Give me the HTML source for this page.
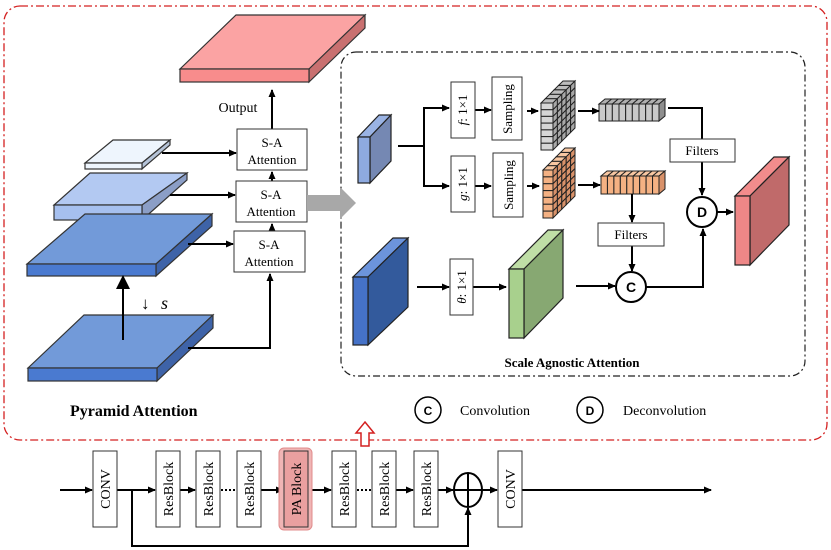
<!DOCTYPE html>
<html><head><meta charset="utf-8"><style>
html,body{margin:0;padding:0;background:#fff}
svg{display:block}
text{font-family:"Liberation Serif",serif;fill:#000}
</style></head><body>
<svg id="s" width="831" height="550" viewBox="0 0 831 550" xmlns="http://www.w3.org/2000/svg">
<defs>
<marker id="a" markerWidth="8" markerHeight="8" refX="7" refY="4" orient="auto" markerUnits="userSpaceOnUse"><path d="M0,0.5 L8,4 L0,7.5z" fill="#000"/></marker>
<marker id="b" markerWidth="14" markerHeight="14" refX="12" refY="7" orient="auto" markerUnits="userSpaceOnUse"><path d="M0,0 L14,7 L0,14z" fill="#000"/></marker>
</defs>
<rect x="4" y="6" width="823" height="434" rx="16" fill="none" stroke="#d42020" stroke-width="1.3" stroke-dasharray="8,3,2,3"/>
<rect x="341" y="52" width="464" height="324" rx="15" fill="none" stroke="#222" stroke-width="1.2" stroke-dasharray="7,3,2,3"/>
<g stroke="#333" stroke-width="1.2">
<!-- output slab -->
<polygon points="180,69 309,69 365,15 236,15" fill="#fba3a3"/>
<polygon points="309,69 365,15 365,28 309,82" fill="#c97070"/>
<rect x="180" y="69" width="129" height="13" fill="#f88c8c"/>
<!-- white slab -->
<polygon points="85,163 142,163 170,140 113,140" fill="#eef5fd"/>
<polygon points="142,163 170,140 170,145 142,169" fill="#b5c3d8"/>
<rect x="85" y="163" width="57" height="6" fill="#eef5fd"/>
<!-- light blue -->
<polygon points="54,205 142,205 187,173 90,173" fill="#b3c9f2"/>
<polygon points="142,205 187,173 187,180 142,220" fill="#8b9ec6"/>
<rect x="54" y="205" width="88" height="15" fill="#a6c0ef"/>
<!-- mid blue -->
<polygon points="27,264 156,264 212,214 85,214" fill="#729ad9"/>
<polygon points="156,264 212,214 212,226 156,276" fill="#3e63a8"/>
<rect x="27" y="264" width="129" height="12" fill="#4a7ad0"/>
<!-- bottom -->
<polygon points="28,368 157,368 213,315 84,315" fill="#729ad9"/>
<polygon points="157,368 213,315 213,328 157,381" fill="#3e63a8"/>
<rect x="28" y="368" width="129" height="13" fill="#4a7ad0"/>
</g>
<g stroke="#000" stroke-width="2" fill="none">
<line x1="272" y1="129" x2="272" y2="90" marker-end="url(#a)"/>
<line x1="162" y1="153" x2="236" y2="153" marker-end="url(#a)"/>
<line x1="170" y1="195" x2="235" y2="195" marker-end="url(#a)"/>
<line x1="188" y1="244" x2="233" y2="244" marker-end="url(#a)"/>
<polyline points="188,348 270,348 270,274" marker-end="url(#a)"/>
<line x1="123" y1="340" x2="123" y2="277" marker-end="url(#b)"/>
<line x1="272" y1="181" x2="272" y2="172" marker-end="url(#a)"/>
<line x1="272" y1="231" x2="272" y2="224" marker-end="url(#a)"/>
</g>
<g fill="#fff" stroke="#333" stroke-width="1">
<rect x="237" y="129" width="70" height="41"/>
<rect x="236" y="181" width="71" height="41"/>
<rect x="234" y="231" width="71" height="41"/>
</g>
<g font-size="13" text-anchor="middle">
<text x="272" y="147">S-A</text><text x="272" y="164">Attention</text>
<text x="271" y="199">S-A</text><text x="271" y="216">Attention</text>
<text x="269" y="249">S-A</text><text x="269" y="266">Attention</text>
<text x="238" y="112" font-size="14">Output</text>
</g>
<text x="141" y="309" font-size="17">↓</text><text x="161" y="309" font-size="18" font-style="italic">s</text>
<polygon points="307,195 340,195 340,187 356,203 340,219 340,211 307,211" fill="#a8a8a8"/>
<text x="70" y="416" font-size="16" font-weight="bold">Pyramid Attention</text>
<text x="572" y="367" font-size="13" font-weight="bold" text-anchor="middle">Scale Agnostic Attention</text>

<!-- SAA blocks -->
<g stroke="#222" stroke-width="1.2">
<polygon points="358,137 370,137 391,115 379,115" fill="#9ab3e4"/>
<polygon points="370,137 391,115 391,161 370,183" fill="#7588b3"/>
<rect x="358" y="137" width="12" height="46" fill="#8eaae0"/>
<polygon points="353,277 368,277 408,238 393,238" fill="#6c94dc"/>
<polygon points="368,277 408,238 408,307 368,345" fill="#335a9c"/>
<rect x="353" y="277" width="15" height="68" fill="#4572c8"/>
<polygon points="509,269 524,269 563,230 548,230" fill="#bfdea6"/>
<polygon points="524,269 563,230 563,298 524,338" fill="#87a872"/>
<rect x="509" y="269" width="15" height="69" fill="#a8d08d"/>
<polygon points="735,196 750,196 789,157 774,157" fill="#f28c8c"/>
<polygon points="750,196 789,157 789,225 750,265" fill="#c06a6a"/>
<rect x="735" y="196" width="15" height="69" fill="#ee8787"/>
</g>
<g id="grids" stroke="#222" stroke-width="1"></g>
<g stroke="#000" stroke-width="2" fill="none">
<polyline points="398,146 424,146"/>
<polyline points="449,108 424,108 424,186 449,186"/>
<line x1="424" y1="108" x2="449" y2="108" marker-end="url(#a)"/>
<line x1="424" y1="186" x2="449" y2="186" marker-end="url(#a)"/>
<line x1="475" y1="110" x2="491" y2="110" marker-end="url(#a)"/>
<line x1="475" y1="186" x2="491" y2="186" marker-end="url(#a)"/>
<line x1="527" y1="111" x2="538" y2="111" marker-end="url(#a)"/>
<line x1="527" y1="186" x2="539" y2="186" marker-end="url(#a)"/>
<line x1="578" y1="111" x2="599" y2="111" marker-end="url(#a)"/>
<line x1="578" y1="185" x2="600" y2="185" marker-end="url(#a)"/>
<polyline points="668,108 702,108 702,139"/>
<line x1="702" y1="162" x2="702" y2="195" marker-end="url(#a)"/>
<line x1="632" y1="194" x2="632" y2="222" marker-end="url(#a)"/>
<line x1="632" y1="246" x2="632" y2="271" marker-end="url(#a)"/>
<line x1="417" y1="287" x2="449" y2="287" marker-end="url(#a)"/>
<line x1="473" y1="287" x2="506" y2="287" marker-end="url(#a)"/>
<line x1="576" y1="286" x2="615" y2="286" marker-end="url(#a)"/>
<polyline points="646,287 703,287 703,229" marker-end="url(#a)"/>
<line x1="717" y1="212" x2="733" y2="212" marker-end="url(#a)"/>
</g>
<g fill="#fff" stroke="#333" stroke-width="1">
<rect x="451" y="82" width="24" height="56"/>
<rect x="451" y="156" width="24" height="56"/>
<rect x="492" y="77" width="30" height="63"/>
<rect x="493" y="153" width="30" height="64"/>
<rect x="670" y="139" width="65" height="23"/>
<rect x="598" y="223" width="66" height="23"/>
<rect x="450" y="259" width="23" height="56"/>
</g>
<g stroke="#000" stroke-width="2" fill="#fff">
<circle cx="702" cy="212" r="15"/><circle cx="631" cy="287" r="15"/>
<circle cx="428" cy="410" r="13" stroke-width="1.5"/><circle cx="590" cy="410" r="13" stroke-width="1.5"/>
</g>
<g font-family="Liberation Sans" font-weight="bold" font-size="14" text-anchor="middle">
<text x="702" y="217" style="font-family:'Liberation Sans',sans-serif">D</text>
<text x="631" y="292" style="font-family:'Liberation Sans',sans-serif">C</text>
<text x="428" y="415" font-size="12" style="font-family:'Liberation Sans',sans-serif">C</text>
<text x="590" y="415" font-size="12" style="font-family:'Liberation Sans',sans-serif">D</text>
</g>
<text x="460" y="415" font-size="14">Convolution</text>
<text x="623" y="415" font-size="14">Deconvolution</text>
<g font-size="13" text-anchor="middle">
<text x="702" y="155">Filters</text><text x="631" y="239">Filters</text>
<text transform="translate(467,110) rotate(-90)"><tspan font-style="italic">f</tspan>: 1×1</text>
<text transform="translate(467,184) rotate(-90)"><tspan font-style="italic">g</tspan>: 1×1</text>
<text transform="translate(466,287) rotate(-90)"><tspan font-style="italic">θ</tspan>: 1×1</text>
<text transform="translate(512,109) rotate(-90)">Sampling</text>
<text transform="translate(513,185) rotate(-90)">Sampling</text>
</g>

<!-- bottom chain -->
<g stroke="#000" stroke-width="2" fill="none">
<line x1="60" y1="490" x2="92" y2="490" marker-end="url(#a)"/>
<line x1="117" y1="490" x2="155" y2="490" marker-end="url(#a)"/>
<line x1="180" y1="490" x2="195" y2="490" marker-end="url(#a)"/>
<line x1="221" y1="490" x2="237" y2="490" stroke-dasharray="2,2"/>
<line x1="261" y1="490" x2="283" y2="490" marker-end="url(#a)"/>
<line x1="308" y1="490" x2="331" y2="490" marker-end="url(#a)"/>
<line x1="357" y1="490" x2="372" y2="490" stroke-dasharray="2,2"/>
<line x1="396" y1="490" x2="413" y2="490" marker-end="url(#a)"/>
<line x1="438" y1="490" x2="453" y2="490" marker-end="url(#a)"/>
<line x1="482" y1="490" x2="497" y2="490" marker-end="url(#a)"/>
<line x1="522" y1="490" x2="711" y2="490" marker-end="url(#a)"/>
<polyline points="132,490 132,546 468,546 468,508" marker-end="url(#a)"/>
<ellipse cx="468" cy="490" rx="14" ry="17" fill="#fff"/>
<line x1="454" y1="490" x2="482" y2="490"/><line x1="468" y1="473" x2="468" y2="507"/>
</g>
<rect x="279" y="448" width="33" height="82" rx="5" fill="#f0b5b5" stroke="#e08c8c"/>
<polygon points="365,422 374,433 369,433 369,446 361,446 361,433 356,433" fill="#fff" stroke="#d42020" stroke-width="1.5"/>
<g fill="#fff" stroke="#333" stroke-width="1">
<rect x="93" y="451" width="24" height="76"/>
<rect x="156" y="451" width="24" height="76"/>
<rect x="196" y="451" width="24" height="76"/>
<rect x="237" y="451" width="24" height="76"/>
<rect x="284" y="451" width="24" height="76" fill="#eaa0a0"/>
<rect x="332" y="451" width="24" height="76"/>
<rect x="372" y="451" width="24" height="76"/>
<rect x="414" y="451" width="24" height="76"/>
<rect x="498" y="451" width="24" height="76"/>
</g>
<g font-size="14" text-anchor="middle">
<text transform="translate(110,489) rotate(-90)">CONV</text>
<text transform="translate(173,489) rotate(-90)">ResBlock</text>
<text transform="translate(213,489) rotate(-90)">ResBlock</text>
<text transform="translate(254,489) rotate(-90)">ResBlock</text>
<text transform="translate(301,489) rotate(-90)">PA Block</text>
<text transform="translate(349,489) rotate(-90)">ResBlock</text>
<text transform="translate(389,489) rotate(-90)">ResBlock</text>
<text transform="translate(431,489) rotate(-90)">ResBlock</text>
<text transform="translate(515,489) rotate(-90)">CONV</text>
</g>
</svg>
<script>
(function(){
var g=document.getElementById('grids'),NS='http://www.w3.org/2000/svg';
function P(pts,f){var p=document.createElementNS(NS,'polygon');p.setAttribute('points',pts.map(function(a){return a.join(',')}).join(' '));p.setAttribute('fill',f);g.appendChild(p);}
function grid(x,y,w,h,dx,dy,n,m,cf,ct,cs){
 // front column cells
 for(var i=0;i<n;i++){var y0=y+h*i/n,y1=y+h*(i+1)/n;P([[x,y0],[x+w,y0],[x+w,y1],[x,y1]],cf);}
 for(var j=0;j<m;j++){var a=j/m,b=(j+1)/m;
  P([[x+dx*a,y-dy*a],[x+w+dx*a,y-dy*a],[x+w+dx*b,y-dy*b],[x+dx*b,y-dy*b]],ct);
  for(var i=0;i<n;i++){var y0=y+h*i/n,y1=y+h*(i+1)/n;
   P([[x+w+dx*a,y0-dy*a],[x+w+dx*b,y0-dy*b],[x+w+dx*b,y1-dy*b],[x+w+dx*a,y1-dy*a]],cs);}
 }
}
grid(541,103,12,47,22,22,7,5,'#d6d6d6','#bdbdbd','#a8a8a8');
grid(543,170,10,48,22,22,7,5,'#f4b183','#f8c7a2','#d9926a');
function bar(x,y,w,h,dx,dy,n,cf,ct,cs){
 for(var i=0;i<n;i++){var x0=x+w*i/n,x1=x+w*(i+1)/n;
  P([[x0,y],[x1,y],[x1,y+h],[x0,y+h]],cf);
  P([[x0,y],[x1,y],[x1+dx,y-dy],[x0+dx,y-dy]],ct);}
 P([[x+w,y],[x+w+dx,y-dy],[x+w+dx,y+h-dy],[x+w,y+h]],cs);
}
bar(599,104,60,17,6,5,9,'#c9c9c9','#b0b0b0','#8f8f8f');
bar(601,176,58,18,6,5,9,'#f4b183','#f8c7a2','#d9926a');
})();
</script>
</body></html>
